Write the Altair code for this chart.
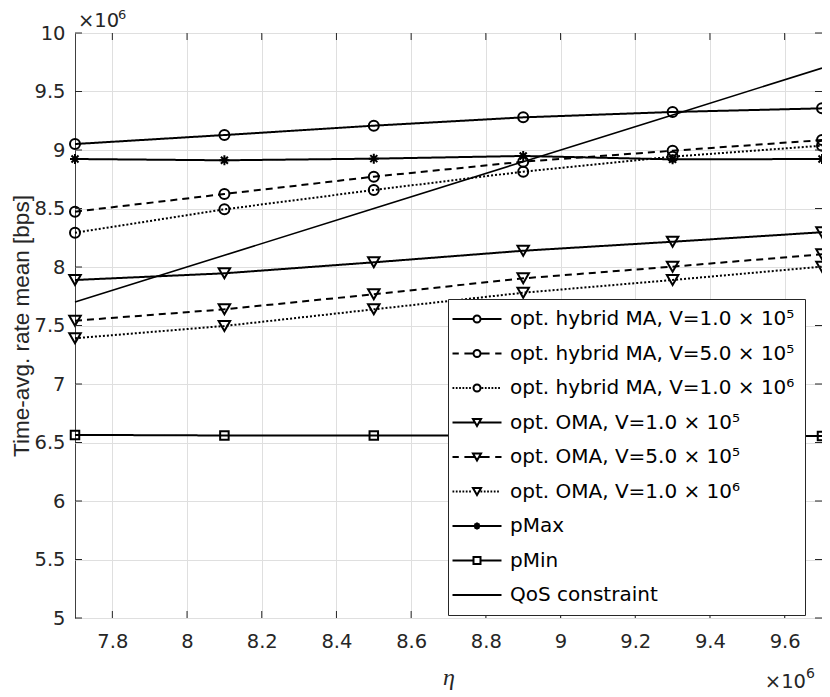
import altair as alt
import pandas as pd

# ---------------- data (values in units of 1e6) ----------------
eta = [7.7, 8.1, 8.5, 8.9, 9.3, 9.7]
hyb_1e5 = [9.051, 9.128, 9.208, 9.279, 9.325, 9.356]
hyb_5e5 = [8.473, 8.624, 8.772, 8.900, 8.994, 9.085]
hyb_1e6 = [8.293, 8.493, 8.658, 8.815, 8.943, 9.037]
oma_1e5 = [7.889, 7.946, 8.040, 8.139, 8.216, 8.297]
oma_5e5 = [7.541, 7.638, 7.767, 7.903, 8.003, 8.109]
oma_1e6 = [7.391, 7.496, 7.638, 7.780, 7.889, 8.003]
p_max = [8.923, 8.912, 8.926, 8.949, 8.920, 8.923]
p_min = [6.565, 6.560, 6.560, 6.560, 6.560, 6.556]
qos = [7.7, 8.1, 8.5, 8.9, 9.3, 9.7]

series_names = [
    "opt. hybrid MA, V=1.0 × 10⁵",
    "opt. hybrid MA, V=5.0 × 10⁵",
    "opt. hybrid MA, V=1.0 × 10⁶",
    "opt. OMA, V=1.0 × 10⁵",
    "opt. OMA, V=5.0 × 10⁵",
    "opt. OMA, V=1.0 × 10⁶",
    "pMax",
    "pMin",
    "QoS constraint",
]
series_values = [hyb_1e5, hyb_5e5, hyb_1e6, oma_1e5, oma_5e5, oma_1e6, p_max, p_min, qos]

x_ticks = [7.8, 8.0, 8.2, 8.4, 8.6, 8.8, 9.0, 9.2, 9.4, 9.6]
y_ticks = [5, 5.5, 6, 6.5, 7, 7.5, 8, 8.5, 9, 9.5, 10]

rows = []
for name, vals in zip(series_names, series_values):
    for xv, yv in zip(eta, vals):
        rows.append({"eta": xv, "rate": yv, "series": name})
df = pd.DataFrame(rows)
df_marked = df[df["series"] != "QoS constraint"]
df_qos = df[df["series"] == "QoS constraint"]

# ---------------- styles ----------------
W, H = 747, 585
INK = "#262626"
FONT = "DejaVu Sans"

CIRCLE = "M-1,0A1,1 0 1,1 1,0A1,1 0 1,1 -1,0Z"
TRI = "M-1.15,-1L1.15,-1L0,1Z"
SQUARE = "M-1,-1L1,-1L1,1L-1,1Z"
ASTER = "M-1,0L1,0M0,-1L0,1M-0.7,-0.7L0.7,0.7M-0.7,0.7L0.7,-0.7"
SQUARE_S = "M-0.85,-0.85L0.85,-0.85L0.85,0.85L-0.85,0.85Z"


def seg(a, b):
    return f"M{a:.2f},0L{b:.2f},0"


def solid(g):
    return seg(-7, -g) + seg(g, 7)


def dashed(g):
    return seg(-7, -5.2) + seg(-3.6, -g) + seg(g, 3.6) + seg(5.2, 7)


def dotted(g):
    s = ""
    p = -7.0
    while p + 0.5 <= -g:
        s += seg(p, p + 0.5)
        p += 0.95
    p = g + 0.2
    while p + 0.5 <= 7:
        s += seg(p, p + 0.5)
        p += 0.95
    return s


legend_paths = [
    solid(1) + CIRCLE,
    dashed(1.2) + CIRCLE,
    dotted(1.1) + CIRCLE,
    solid(0.7) + TRI,
    dashed(0.8) + TRI,
    dotted(0.8) + TRI,
    seg(-7, 7) + ASTER,
    solid(1) + SQUARE,
    seg(-7, 7),
]
marker_paths = [CIRCLE, CIRCLE, CIRCLE, TRI, TRI, TRI, ASTER, SQUARE_S]
dash_range = [[1, 0], [7, 5], [2, 2], [1, 0], [7, 5], [2, 2], [1, 0], [1, 0]]

x_enc = alt.X(
    "eta:Q",
    scale=alt.Scale(domain=[7.7, 9.7], nice=False, zero=False),
    axis=alt.Axis(
        values=x_ticks, format="~g", ticks=False, domain=False, grid=True,
        gridColor="#dfdfdf", labelFont=FONT, labelFontSize=19.5, labelColor=INK,
        labelPadding=14, title="η", titleFont="Liberation Serif", titleFontSize=24,
        titleFontStyle="italic", titleFontWeight="normal", titleColor=INK,
        titlePadding=15,
    ),
)
y_enc = alt.Y(
    "rate:Q",
    scale=alt.Scale(domain=[5, 10], nice=False, zero=False),
    axis=alt.Axis(
        values=y_ticks, format="~g", ticks=False, domain=False, grid=True,
        gridColor="#dfdfdf", labelFont=FONT, labelFontSize=19.5, labelColor=INK,
        labelPadding=10, title="Time-avg. rate mean [bps]", titleFont="Liberation Sans",
        titleFontSize=22.5, titleFontWeight="normal", titleColor=INK, titlePadding=0,
    ),
)

lines = alt.Chart(df_marked).mark_line(color="black", strokeWidth=2).encode(
    x=x_enc,
    y=y_enc,
    strokeDash=alt.StrokeDash(
        "series:N",
        scale=alt.Scale(domain=series_names[:8], range=dash_range),
        legend=None,
    ),
    detail="series:N",
    order="eta:Q",
)

qos_line = alt.Chart(df_qos).mark_line(color="black", strokeWidth=1.6).encode(
    x=x_enc, y=y_enc, order="eta:Q"
)

points = alt.Chart(df_marked).mark_point(
    filled=False, color="black", strokeWidth=2, size=100, opacity=1
).encode(
    x=x_enc,
    y=y_enc,
    shape=alt.Shape(
        "series:N",
        scale=alt.Scale(domain=series_names[:8], range=marker_paths),
        legend=None,
    ),
)

legend_layer = alt.Chart(df).transform_filter("false").mark_point(
    filled=False, color="black", strokeWidth=2, size=49, opacity=1
).encode(
    x=x_enc,
    y=y_enc,
    shape=alt.Shape(
        "series:N",
        scale=alt.Scale(domain=series_names, range=legend_paths),
        legend=alt.Legend(
            title=None, orient="none", legendX=373, legendY=266,
            fillColor="white", strokeColor=INK, padding=10,
            symbolOffset=9, labelOffset=23, symbolSize=49,
            symbolStrokeWidth=2, symbolStrokeColor="black",
            symbolFillColor="transparent", symbolOpacity=1,
            labelFont=FONT, labelFontSize=20, labelColor="black",
            labelLimit=500, rowPadding=14.5,
        ),
    ),
)

xt = pd.DataFrame({"eta": x_ticks})
yt = pd.DataFrame({"rate": y_ticks})
tick_style = dict(color=INK, strokeWidth=1)
tick_bottom = alt.Chart(xt).mark_rule(**tick_style).encode(x=x_enc, y=alt.value(H), y2=alt.value(H - 7))
tick_top = alt.Chart(xt).mark_rule(**tick_style).encode(x=x_enc, y=alt.value(0), y2=alt.value(7))
tick_left = alt.Chart(yt).mark_rule(**tick_style).encode(y=y_enc, x=alt.value(0), x2=alt.value(7))
tick_right = alt.Chart(yt).mark_rule(**tick_style).encode(y=y_enc, x=alt.value(W), x2=alt.value(W - 7))

mult_base = ["×10"]
mult_exp = ["6"]
y_mult = alt.Chart(pd.DataFrame({"t": mult_base})).mark_text(
    font=FONT, fontSize=19.5, color=INK, align="left", baseline="alphabetic"
).encode(text="t:N", x=alt.value(3), y=alt.value(-6))
y_mult_exp = alt.Chart(pd.DataFrame({"t": mult_exp})).mark_text(
    font=FONT, fontSize=13, color=INK, align="left", baseline="alphabetic"
).encode(text="t:N", x=alt.value(43), y=alt.value(-14))
x_mult = alt.Chart(pd.DataFrame({"t": mult_base})).mark_text(
    font=FONT, fontSize=19.5, color=INK, align="right", baseline="alphabetic"
).encode(text="t:N", x=alt.value(731), y=alt.value(655))
x_mult_exp = alt.Chart(pd.DataFrame({"t": mult_exp})).mark_text(
    font=FONT, fontSize=14, color=INK, align="left", baseline="alphabetic"
).encode(text="t:N", x=alt.value(731), y=alt.value(645))

chart = alt.layer(
    lines, qos_line, points, tick_bottom, tick_top, tick_left, tick_right,
    legend_layer, y_mult, y_mult_exp, x_mult, x_mult_exp,
).resolve_scale(shape="independent").properties(
    width=W,
    height=H,
    autosize=alt.AutoSizeParams(type="none"),
    padding={"left": 67, "top": 25, "right": 0, "bottom": 75},
    background="white",
).configure_view(stroke="#404040", strokeWidth=1)

chart.save("out.html", embed_options={"renderer": "svg", "actions": False})
